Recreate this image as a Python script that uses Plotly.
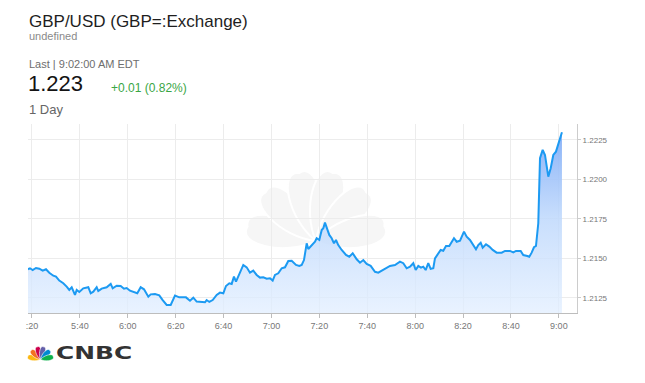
import math
import plotly.graph_objects as go

# ---------------- data ----------------
DAY = "2017-06-09"
times = ["05:18:20","05:19:10","05:20:17","05:21:40","05:23:03","05:24:28","05:25:51","05:27:13","05:28:54","05:30:01",
         "05:31:24","05:33:04","05:34:29","05:35:34","05:36:35","05:37:15","05:37:57","05:38:40","05:39:45","05:41:25",
         "05:43:31","05:44:31","05:45:36","05:47:01","05:47:41","05:49:06","05:51:11","05:52:52","05:53:42","05:55:22",
         "05:57:02","05:58:25","05:59:32","06:00:55","06:03:01","06:03:58","06:05:23","06:06:46","06:08:34","06:09:34",
         "06:11:22","06:13:09","06:14:34","06:16:14","06:17:55","06:19:43","06:21:30","06:24:18","06:25:58","06:27:21",
         "06:28:46","06:30:52","06:32:14","06:32:56","06:34:02","06:35:27","06:37:07","06:38:30","06:39:53","06:41:00",
         "06:42:23","06:43:23","06:44:20","06:45:11","06:46:33","06:48:14","06:49:39","06:51:01","06:52:24","06:53:49",
         "06:55:12","06:56:35","06:58:00","06:59:23","07:00:30","07:01:28","07:02:50","07:04:16","07:05:38","07:07:01",
         "07:08:26","07:10:14","07:11:37","07:12:37","07:13:34","07:14:42","07:15:22","07:16:47","07:18:10","07:18:52",
         "07:19:58","07:20:58","07:21:38","07:22:20","07:23:03","07:24:08","07:25:08","07:26:06","07:26:56","07:27:53",
         "07:29:19","07:31:07","07:32:29","07:33:55","07:35:35","07:36:57","07:38:20","07:39:45","07:41:25","07:43:13",
         "07:44:36","07:46:01","07:47:23","07:49:29","07:51:34","07:53:39","07:55:02","07:56:27","07:57:50","07:59:13",
         "08:00:13","08:01:18","08:02:25","08:03:23","08:04:23","08:05:28","08:06:28","08:07:34","08:08:16","08:09:39",
         "08:10:39","08:11:44","08:12:52","08:14:14","08:15:14","08:16:12","08:17:20","08:18:43","08:20:23","08:21:30",
         "08:22:53","08:24:16","08:25:23","08:26:21","08:27:21","08:28:11","08:29:34","08:30:57","08:32:22","08:34:02",
         "08:36:07","08:37:30","08:39:35","08:40:58","08:42:05","08:44:03","08:45:08","08:46:49","08:47:38","08:48:38",
         "08:49:36","08:50:26","08:51:24","08:52:07","08:53:14","08:54:12","08:55:35","08:56:35","08:57:40","08:58:47",
         "08:59:45","09:01:17"]
prices = [1.21432,1.21438,1.21427,1.21440,1.21435,1.21423,1.21432,1.21410,1.21391,1.21385,
          1.21360,1.21343,1.21322,1.21301,1.21318,1.21296,1.21269,1.21301,1.21288,1.21311,
          1.21318,1.21280,1.21290,1.21318,1.21294,1.21309,1.21318,1.21339,1.21311,1.21328,
          1.21326,1.21309,1.21313,1.21296,1.21286,1.21280,1.21318,1.21305,1.21258,1.21273,
          1.21275,1.21267,1.21237,1.21206,1.21206,1.21265,1.21254,1.21254,1.21233,1.21252,
          1.21227,1.21227,1.21223,1.21237,1.21225,1.21237,1.21269,1.21284,1.21280,1.21326,
          1.21343,1.21339,1.21385,1.21353,1.21396,1.21459,1.21444,1.21410,1.21423,1.21396,
          1.21379,1.21381,1.21372,1.21375,1.21360,1.21396,1.21406,1.21438,1.21444,1.21484,
          1.21486,1.21459,1.21453,1.21459,1.21490,1.21596,1.21560,1.21585,1.21606,1.21628,
          1.21617,1.21680,1.21691,1.21727,1.21691,1.21649,1.21628,1.21596,1.21617,1.21585,
          1.21554,1.21522,1.21511,1.21533,1.21495,1.21473,1.21490,1.21465,1.21453,1.21416,
          1.21410,1.21423,1.21432,1.21453,1.21459,1.21480,1.21470,1.21438,1.21448,1.21470,
          1.21427,1.21453,1.21442,1.21448,1.21427,1.21470,1.21434,1.21438,1.21501,1.21533,
          1.21554,1.21549,1.21579,1.21579,1.21606,1.21628,1.21606,1.21613,1.21670,1.21638,
          1.21617,1.21585,1.21558,1.21585,1.21600,1.21568,1.21590,1.21575,1.21554,1.21537,
          1.21537,1.21548,1.21548,1.21539,1.21548,1.21548,1.21522,1.21516,1.21511,1.21537,
          1.21571,1.21579,1.21723,1.22134,1.22187,1.22155,1.22018,1.22071,1.22155,1.22176,
          1.22229,1.22299]

x_tick_times = ["05:20","05:40","06:00","06:20","06:40","07:00","07:20","07:40","08:00","08:20","08:40","09:00"]
x_tick_labels = [":20","5:40","6:00","6:20","6:40","7:00","7:20","7:40","8:00","8:20","8:40","9:00"]
y_tick_values = [1.2125, 1.2150, 1.2175, 1.2200, 1.2225]
y_tick_labels = ["1.2125", "1.2150", "1.2175", "1.2200", "1.2225"]

title_text = "GBP/USD (GBP=:Exchange)"
subtitle_text = "undefined"
last_text = "Last | 9:02:00 AM EDT"
price_text = "1.223"
change_text = "+0.01 (0.82%)"
period_text = "1 Day"
brand_text = "CNBC"

# ---------------- geometry ----------------
W, H = 645, 383
L, R, T, B = 28, 577, 124, 313
Y_MIN, Y_MAX = 1.21155, 1.22351
X_MIN, X_MAX = f"{DAY} 05:18:20", f"{DAY} 09:07:34"


def fx(px):
    return (px - L) / (R - L)


def fy(py):
    return (B - py) / (B - T)


xs = [f"{DAY} {t}" for t in times]

fig = go.Figure()
fig.add_trace(go.Scatter(
    x=xs, y=prices, mode="lines",
    line=dict(color="#1c9af2", width=2),
    fill="tozeroy",
    fillgradient=dict(type="vertical", start=Y_MIN, stop=Y_MAX,
                      colorscale=[[0, "rgba(225,238,255,0.75)"], [0.5, "rgba(190,216,252,0.85)"],
                                  [1, "rgba(122,168,246,0.95)"]]),
    hoverinfo="skip", showlegend=False,
))


# ---------------- peacock helper ----------------
def petal_path(bx, by, ang_deg, length, half_w):
    a = math.radians(ang_deg)
    dx, dy = math.cos(a), -math.sin(a)
    nx, ny = -dy, dx
    tx, ty = bx + length * dx, by + length * dy

    def P(x, y):
        return f"{fx(x):.5f},{fy(y):.5f}"
    c1 = (bx + 0.40 * length * dx + 1.3 * half_w * nx, by + 0.40 * length * dy + 1.3 * half_w * ny)
    c2 = (tx + 0.45 * half_w * dx + 1.15 * half_w * nx, ty + 0.45 * half_w * dy + 1.15 * half_w * ny)
    c3 = (tx + 0.45 * half_w * dx - 1.15 * half_w * nx, ty + 0.45 * half_w * dy - 1.15 * half_w * ny)
    c4 = (bx + 0.40 * length * dx - 1.3 * half_w * nx, by + 0.40 * length * dy - 1.3 * half_w * ny)
    return (f"M {P(bx, by)} C {P(*c1)} {P(*c2)} {P(tx, ty)} "
            f"C {P(*c3)} {P(*c4)} {P(bx, by)} Z")


shapes = []
feather_colors = ["#fcb711", "#f37021", "#cc004c", "#6460aa", "#0089d0", "#0db14b"]
angles = [168, 136, 104, 76, 44, 12]

# faint watermark peacock behind the grid and line
for ang in angles:
    shapes.append(dict(type="path", xref="paper", yref="paper", layer="below",
                       path=petal_path(316, 241, ang, 70, 17),
                       fillcolor="#f6f6f6", line=dict(color="white", width=2)))

# logo peacock bottom-left
for col, ang in zip(feather_colors, angles):
    shapes.append(dict(type="path", xref="paper", yref="paper", layer="above",
                       path=petal_path(40.5, 359.5, ang, 13, 3.1),
                       fillcolor=col, line=dict(color="white", width=0.6)))

annotations = [
    dict(text=title_text, x=fx(28), y=fy(21.5), xanchor="left", yanchor="middle",
         font=dict(family="Liberation Sans", size=17, color="#1e1e1e")),
    dict(text=subtitle_text, x=fx(28), y=fy(36.5), xanchor="left", yanchor="middle",
         font=dict(family="Liberation Sans", size=11, color="#8a8a8a")),
    dict(text=last_text, x=fx(28), y=fy(64.5), xanchor="left", yanchor="middle",
         font=dict(family="Liberation Sans", size=11, color="#6e6e6e")),
    dict(text=price_text, x=fx(27), y=fy(83), xanchor="left", yanchor="middle",
         font=dict(family="Liberation Sans", size=22, color="#141414")),
    dict(text=change_text, x=fx(110), y=fy(88), xanchor="left", yanchor="middle",
         font=dict(family="Liberation Sans", size=12, color="#3aa645")),
    dict(text=period_text, x=fx(28), y=fy(109), xanchor="left", yanchor="middle",
         font=dict(family="Liberation Sans", size=13, color="#666666")),
    dict(text="<b>" + brand_text + "</b>", x=fx(55), y=fy(353), xanchor="left", yanchor="middle",
         font=dict(family="DejaVu Sans", size=17.5, color="#333333")),
]
for a in annotations:
    a.update(xref="paper", yref="paper", showarrow=False, borderpad=0)

fig.update_layout(
    width=W, height=H,
    margin=dict(l=L, r=W - R, t=T, b=H - B, pad=0),
    paper_bgcolor="white", plot_bgcolor="rgba(0,0,0,0)",
    showlegend=False,
    shapes=shapes,
    annotations=annotations,
    xaxis=dict(
        type="date", range=[X_MIN, X_MAX],
        tickvals=[f"{DAY} {t}" for t in x_tick_times], ticktext=x_tick_labels,
        showgrid=True, gridcolor="#ececec", gridwidth=1,
        showline=True, linecolor="#bdbdbd", linewidth=1,
        ticks="outside", ticklen=4, tickcolor="#bdbdbd",
        tickfont=dict(family="Liberation Sans", size=9, color="#777777"),
        zeroline=False, fixedrange=True,
    ),
    yaxis=dict(
        side="right", range=[Y_MIN, Y_MAX],
        tickvals=y_tick_values, ticktext=y_tick_labels,
        showgrid=True, gridcolor="#ececec", gridwidth=1,
        showline=True, linecolor="#cccccc", linewidth=1,
        ticks="outside", ticklen=3, tickcolor="#cccccc",
        tickfont=dict(family="Liberation Sans", size=8, color="#777777"),
        zeroline=False, fixedrange=True,
    ),
)

post_js = """
document.body.style.margin = '0px';
document.body.style.padding = '0px';
var gd = document.getElementById('{plot_id}');
gd.querySelectorAll('text.annotation-text').forEach(function (t) {
  if (t.textContent === 'CNBC') {
    var bb = t.getBBox();
    var x0 = bb.x;
    t.setAttribute('transform', 'translate(' + x0 + ',0) scale(1.42,1) translate(' + (-x0) + ',0)');
  }
});
"""

fig.write_html("out.html", post_script=post_js,
               config={"displayModeBar": False, "staticPlot": True})
